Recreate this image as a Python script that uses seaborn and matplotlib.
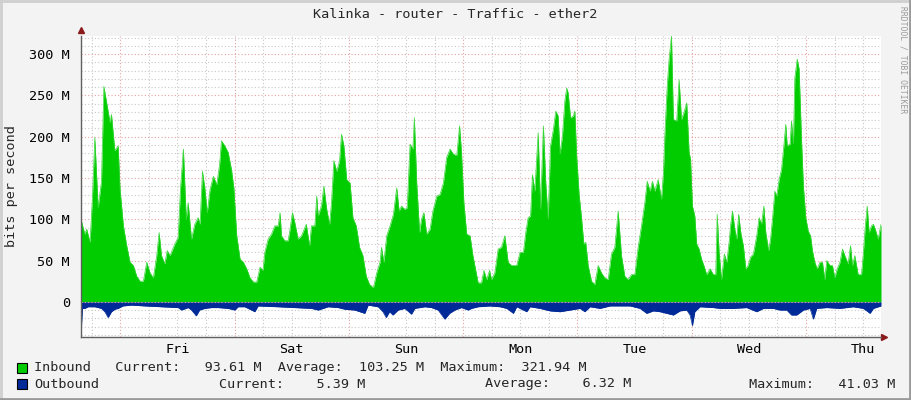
import numpy as np
import pandas as pd
import seaborn as sns
import matplotlib.pyplot as plt
from matplotlib.lines import Line2D
from matplotlib.patches import Rectangle

# hours since start of the graph (Wed ~15:45) and Mbit/s
in_hours = [0.0, 0.8, 1.2, 1.9, 2.4, 2.9, 3.6, 4.3, 4.8, 5.4, 6.1, 6.4, 7.1, 7.8, 8.2, 8.9,
            9.6, 10.3, 11.0, 11.7, 12.4, 13.1, 13.8, 14.5, 15.2, 15.9, 16.4, 16.9, 17.6, 18.1,
            18.7, 19.7, 20.4, 20.9, 21.5, 22.1, 22.5, 23.2, 23.9, 24.6, 25.0, 25.5, 26.0, 26.5,
            27.1, 27.8, 28.5, 29.1, 29.5, 30.2, 30.9, 31.6, 32.1, 32.7, 33.4, 34.1, 34.8, 35.5,
            36.2, 36.9, 37.6, 38.2, 38.6, 39.3, 40.0, 40.7, 41.4, 41.8, 42.1, 42.8, 43.5, 43.9,
            44.4, 44.9, 45.6, 46.3, 47.3, 48.0, 48.4, 49.1, 49.5, 49.8, 50.5, 51.0, 51.6, 52.2,
            52.6, 53.1, 53.7, 54.3, 54.7, 55.2, 55.8, 56.5, 57.1, 57.8, 58.5, 59.2, 59.9, 60.6,
            61.4, 62.1, 62.8, 63.1, 63.6, 64.2, 64.9, 65.6, 66.3, 66.8, 67.3, 68.0, 68.5, 69.1,
            69.7, 70.0, 70.5, 71.1, 71.5, 72.0, 72.6, 73.3, 73.9, 74.7, 75.4, 76.1, 76.8, 77.5,
            78.2, 78.9, 79.5, 79.9, 80.4, 81.0, 81.7, 82.3, 82.7, 83.4, 84.1, 84.6, 85.2, 85.8,
            86.2, 86.9, 87.6, 88.3, 89.0, 89.7, 90.4, 91.5, 92.2, 92.9, 93.4, 93.9, 94.4, 94.8,
            95.3, 96.0, 96.5, 97.1, 97.6, 98.1, 98.6, 99.2, 99.7, 100.2, 100.6, 101.1, 101.6,
            102.0, 102.3, 102.8, 103.4, 103.7, 104.1, 104.6, 105.1, 105.6, 106.0, 106.5, 107.2,
            107.9, 108.6, 109.3, 110.0, 110.7, 111.4, 112.1, 112.8, 113.5, 114.2, 114.9, 115.6,
            116.3, 117.0, 117.7, 118.4, 118.9, 119.5, 120.0, 120.5, 121.2, 121.9, 122.3, 122.6,
            123.1, 123.5, 124.0, 124.4, 125.1, 125.6, 126.1, 126.6, 127.2, 127.7, 128.0, 128.4,
            128.9, 129.3, 129.8, 130.3, 130.8, 131.4, 132.1, 132.8, 133.3, 133.6, 134.0, 134.5,
            135.1, 135.6, 136.1, 136.4, 136.8, 137.3, 137.7, 138.1, 138.6, 139.1, 139.6, 140.1,
            140.6, 141.2, 141.9, 142.4, 142.9, 143.4, 143.8, 144.4, 144.8, 145.2, 145.7, 146.1,
            146.6, 147.1, 147.6, 148.0, 148.3, 148.9, 149.2, 149.6, 149.9, 150.4, 150.8, 151.3,
            151.7, 152.2, 152.7, 153.2, 153.6, 154.1, 154.6, 155.2, 155.7, 156.2, 156.6, 157.3,
            157.8, 158.3, 158.8, 159.4, 159.9, 160.4, 161.1, 161.6, 162.0, 162.5, 163.2, 163.9,
            164.3, 164.7, 165.1, 165.5, 166.0, 166.4, 166.9, 167.4, 168.0]
inbound = [100, 82, 88, 72, 126, 199, 114, 146, 261, 241, 217, 227, 183, 189, 136, 92,
           68, 48, 44, 31, 25, 25, 48, 35, 29, 56, 84, 56, 46, 62,
           56, 70, 78, 138, 185, 100, 120, 76, 94, 102, 94, 158, 138, 108,
           136, 152, 142, 166, 195, 189, 181, 160, 138, 80, 52, 48, 40, 29,
           24, 24, 42, 38, 60, 76, 82, 92, 92, 108, 80, 74, 74, 88,
           108, 96, 76, 80, 94, 68, 92, 92, 128, 104, 116, 140, 112, 94,
           120, 171, 158, 171, 203, 189, 148, 144, 102, 92, 66, 56, 31, 21,
           17, 35, 48, 66, 48, 80, 92, 106, 138, 110, 116, 112, 114, 191,
           185, 223, 144, 84, 100, 108, 82, 88, 110, 128, 130, 144, 175, 185,
           179, 177, 213, 181, 120, 82, 80, 56, 44, 23, 23, 38, 27, 38,
           27, 35, 64, 66, 80, 48, 44, 44, 60, 60, 84, 102, 104, 154,
           134, 205, 112, 213, 144, 100, 189, 209, 231, 225, 179, 201, 243,
           259, 253, 223, 225, 231, 175, 130, 102, 70, 72, 44, 25,
           21, 44, 35, 29, 27, 58, 66, 110, 56, 31, 27, 33,
           33, 66, 92, 120, 146, 134, 146, 134, 148, 124, 156, 201,
           261, 294, 322, 221, 219, 269, 221, 229, 241, 181, 173, 116,
           104, 70, 64, 52, 44, 33, 40, 33, 33, 106, 60, 27,
           58, 48, 72, 92, 110, 88, 76, 106, 82, 68, 40, 44,
           54, 58, 80, 102, 94, 116, 84, 62, 76, 100, 134, 128,
           148, 160, 189, 215, 189, 191, 219, 191, 271, 294, 282, 197,
           140, 102, 86, 80, 62, 48, 40, 48, 48, 27, 50, 44,
           44, 29, 40, 48, 64, 56, 46, 68, 44, 56, 33, 33,
           60, 92, 116, 84, 92, 94, 86, 76, 94]

out_hours = [0.0, 0.3, 0.8, 1.5, 2.9, 4.3, 5.0, 5.7, 6.4, 7.1, 7.8, 8.8, 10.6, 13.4, 16.9,
             20.4, 21.1, 22.5, 23.2, 24.2, 24.9, 26.0, 27.4, 28.8, 30.9, 32.3, 33.0, 34.4,
             36.5, 37.2, 41.4, 44.9, 48.4, 49.8, 51.9, 54.0, 55.4, 57.5, 59.6, 60.3, 62.4,
             63.4, 64.1, 64.8, 65.5, 66.6, 68.0, 69.4, 70.1, 72.2, 73.6, 75.0, 76.4, 77.4,
             78.5, 79.9, 81.3, 82.0, 83.4, 85.9, 88.0, 89.4, 90.8, 91.5, 93.6, 94.3, 96.4,
             98.5, 100.6, 102.7, 104.8, 105.8, 106.9, 109.0, 111.1, 115.3, 117.4, 118.8,
             120.2, 121.6, 123.0, 124.4, 125.8, 127.2, 127.9, 128.4, 128.9, 130.0, 132.8,
             134.2, 137.0, 139.8, 141.9, 143.3, 145.4, 146.8, 148.2, 149.2, 150.3, 151.7,
             153.1, 153.8, 154.5, 156.6, 159.4, 162.2, 164.3, 165.7, 166.4, 168.0]
outbound = [41, 8, 8, 6, 6, 8, 12, 19, 12, 9, 8, 5, 4, 5, 6,
            7, 10, 7, 10, 17, 10, 8, 7, 7, 8, 10, 6, 6,
            12, 5, 6, 7, 8, 10, 6, 7, 9, 10, 14, 4, 6,
            12, 19, 12, 16, 10, 8, 15, 8, 6, 7, 10, 21, 14,
            10, 7, 10, 8, 6, 5, 6, 8, 14, 6, 12, 6, 8,
            11, 12, 10, 8, 12, 6, 8, 5, 5, 8, 14,
            11, 12, 14, 16, 11, 10, 16, 29, 12, 6, 7,
            8, 8, 7, 12, 8, 8, 10, 10, 16, 16, 10,
            8, 21, 8, 7, 8, 6, 8, 14, 8, 5]

day_names = ["Fri", "Sat", "Sun", "Mon", "Tue", "Wed", "Thu"]
first_midnight = 8.25

legend_in = "Inbound   Current:   93.61 M  Average:  103.25 M  Maximum:  321.94 M"
legend_out = ["Outbound", "Current:    5.39 M", "Average:    6.32 M", "Maximum:   41.03 M"]

df_in = pd.DataFrame({"hours": in_hours, "bps": inbound})
df_out = pd.DataFrame({"hours": out_hours, "bps": [-v for v in outbound]})

sns.set_style("white")
plt.rcParams["font.family"] = ["DejaVu Sans Mono"]

W, H = 911, 400
fig = plt.figure(figsize=(W / 100, H / 100), dpi=100, facecolor="#f3f3f3")
ax = fig.add_axes([81 / W, 1 - 336.5 / H, 800 / W, 300.5 / H])
ax.set_facecolor("white")

green = "#00cc00"
blue = "#002a97"
ymin, ymax = -42, 322

# grid, drawn first so the areas cover it
dot = (0, (1, 2))
for v in range(-40, 330, 10):
    if v % 50 == 0:
        continue
    ax.axhline(v, color="#c8c8c8", lw=0.8, ls=dot, zorder=0)
for v in range(0, 330, 50):
    ax.axhline(v, color="#e8a0a0", lw=0.8, ls=dot, zorder=0.5)
for k in range(-1, 28):
    t = first_midnight + 6 * k
    if 0 < t < 168:
        major = k % 4 == 0
        ax.axvline(t, color="#e8a0a0" if major else "#c8c8c8", lw=0.8, ls=dot,
                   zorder=0.5 if major else 0)

ax.fill_between(df_in["hours"], 0, df_in["bps"], color=green, lw=0, zorder=2)
sns.lineplot(data=df_in, x="hours", y="bps", ax=ax, color="#33d633", lw=0.5, zorder=2)
ax.fill_between(df_out["hours"], 0, df_out["bps"], color=blue, lw=0, zorder=2)
sns.lineplot(data=df_out, x="hours", y="bps", ax=ax, color=blue, lw=0.5, zorder=2)
ax.axhline(0, color="#e8a0a0", lw=0.8, ls=dot, zorder=3)

ax.set_xlim(0, 168)
ax.set_ylim(ymin, ymax)
ax.set_xlabel("")
ax.set_ylabel("bits per second", fontsize=9.7, labelpad=8)

yt = list(range(0, 301, 50))
ax.set_yticks(yt, [f"{v} M" if v else "0" for v in yt])
ax.set_xticks([first_midnight + 12 + 24 * i for i in range(len(day_names))], day_names)
ax.tick_params(axis="both", length=0, labelsize=9.7, colors="black")
ax.tick_params(axis="y", pad=8)
ax.tick_params(axis="x", pad=5)

for s in ["top", "right"]:
    ax.spines[s].set_visible(False)
for s in ["left", "bottom"]:
    ax.spines[s].set_color("#606060")
    ax.spines[s].set_linewidth(1)
    ax.spines[s].set_zorder(4)

# RRD style arrow heads
ax.plot([1.004], [0], marker=">", ms=5, color="#8b1a1a", transform=ax.transAxes, clip_on=False)
ax.plot([0], [1.02], marker="^", ms=5, color="#8b1a1a", transform=ax.transAxes, clip_on=False)

fig.text(455 / W, 1 - 14 / H, "Kalinka - router - Traffic - ether2", ha="center", va="center",
         fontsize=9.7)
fig.text(903 / W, 1 - 6 / H, "RRDTOOL / TOBI OETIKER", rotation=-90, ha="center", va="top",
         fontsize=5.8, color="#9a9a9a")

# legend
fig.add_artist(Rectangle((17 / W, 1 - 373 / H), 10 / W, 10 / H, facecolor=green,
                         edgecolor="black", lw=0.8))
fig.add_artist(Rectangle((17 / W, 1 - 389 / H), 10 / W, 10 / H, facecolor=blue,
                         edgecolor="black", lw=0.8))
fig.text(34 / W, 1 - 368 / H, legend_in, ha="left", va="center", fontsize=9.7)
for xp, txt in zip([34, 219, 485, 749], legend_out):
    fig.text(xp / W, 1 - 384 / H, txt, ha="left", va="center", fontsize=9.7)

# frame
fig.add_artist(Line2D([0, 1], [1 - 1 / H, 1 - 1 / H], color="#cfcfcf", lw=2))
fig.add_artist(Line2D([1 / W, 1 / W], [0, 1], color="#cfcfcf", lw=2))
fig.add_artist(Line2D([0, 1], [1 / H, 1 / H], color="#9a9a9a", lw=2))
fig.add_artist(Line2D([1 - 1 / W, 1 - 1 / W], [0, 1], color="#9a9a9a", lw=2))

fig.savefig("out.png", dpi=100, facecolor=fig.get_facecolor())
